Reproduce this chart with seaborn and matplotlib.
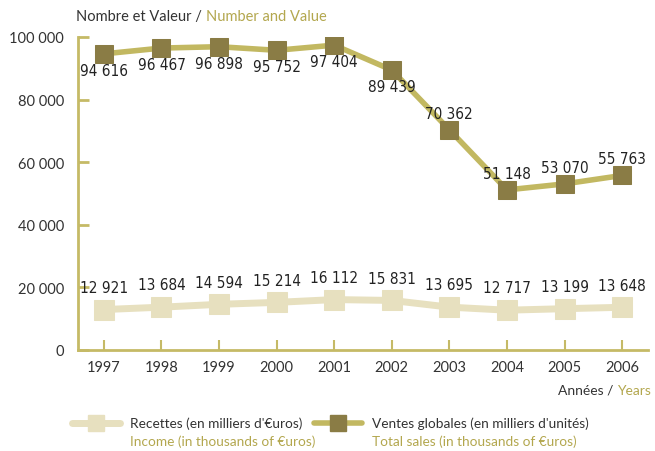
import matplotlib
matplotlib.use("Agg")
import matplotlib.pyplot as plt
from matplotlib.lines import Line2D
from matplotlib.ticker import FuncFormatter
import seaborn as sns
import pandas as pd

# data
years = [1997, 1998, 1999, 2000, 2001, 2002, 2003, 2004, 2005, 2006]
sales = [94616, 96467, 96898, 95752, 97404, 89439, 70362, 51148, 53070, 55763]
income = [12921, 13684, 14594, 15214, 16112, 15831, 13695, 12717, 13199, 13648]
# sales labels: below for the first six points, above afterwards
sales_label_pos = ["below"] * 6 + ["above"] * 4

df = pd.DataFrame({"year": years, "sales": sales, "income": income})

# colours
axis_col = "#c5ba66"
sales_line = "#c2b861"
sales_mark = "#8a7c45"
income_col = "#e7e0bf"
dark = "#333333"
olive_txt = "#b3a74e"

sns.set_theme(style="white")
plt.rcParams["font.family"] = ["Lato", "DejaVu Sans"]

fig = plt.figure(figsize=(6.55, 4.52), dpi=100)
ax = fig.add_axes([78 / 655, 1 - 351 / 452, (648 - 78) / 655, (351 - 38) / 452])

sns.lineplot(data=df, x="year", y="income", ax=ax, color=income_col, lw=5,
             marker="s", markersize=15, markerfacecolor=income_col,
             markeredgecolor=income_col, zorder=3)
sns.lineplot(data=df, x="year", y="sales", ax=ax, color=sales_line, lw=4,
             marker="s", markersize=13, markerfacecolor=sales_mark,
             markeredgecolor=sales_mark, zorder=4)

lab_font = dict(family="DejaVu Sans", fontstretch="condensed", fontsize=11,
                color="#222222", ha="center", va="center", zorder=6)
fmt = lambda v: f"{v:,}".replace(",", " ")
for x, v, pos in zip(years, sales, sales_label_pos):
    dy = -12 if pos == "below" else 12
    ax.annotate(fmt(v), (x, v), xytext=(0, dy), textcoords="offset points", **lab_font)
for x, v in zip(years, income):
    ax.annotate(fmt(v), (x, v), xytext=(0, 16), textcoords="offset points", **lab_font)

ax.set_xlim(1996.55, 2006.45)
ax.set_ylim(0, 100000)
ax.set_xticks(years)
ax.set_yticks(range(0, 100001, 20000))
ax.yaxis.set_major_formatter(FuncFormatter(lambda v, p: fmt(int(v))))
ax.set_xlabel("")
ax.set_ylabel("")

for s in ["top", "right"]:
    ax.spines[s].set_visible(False)
for s in ["left", "bottom"]:
    ax.spines[s].set_color(axis_col)
    ax.spines[s].set_linewidth(2)
ax.tick_params(axis="y", direction="in", length=8, width=2, color=axis_col,
               labelsize=10.5, labelcolor=dark, pad=10, left=True)
ax.tick_params(axis="x", direction="in", length=7, width=1.5, color=axis_col,
               labelsize=10.5, labelcolor=dark, pad=7, bottom=True)
ax.grid(False)

# axis titles, two colours each
ty = 1 - 17 / 452
t = fig.text(76 / 655, ty, "Nombre et Valeur / ", fontsize=10.5, color=dark, va="center")
fig.canvas.draw()
bb = t.get_window_extent()
fig.text(bb.x1 / 655, ty, "Number and Value", fontsize=10.5, color=olive_txt, va="center")

xy = 1 - 391 / 452
t2 = fig.text(651 / 655, xy, "Years", fontsize=10, color=olive_txt, ha="right", va="center")
fig.canvas.draw()
bb2 = t2.get_window_extent()
fig.text(bb2.x0 / 655, xy, "Années / ", fontsize=10, color=dark, ha="right", va="center")

# legend drawn by hand (two-colour labels)
def legend_item(x0, face, line_col, lw, ms, fr, en):
    y = 1 - 424 / 452
    fig.add_artist(Line2D([x0 / 655, (x0 + 48) / 655], [y, y], color=line_col, lw=lw,
                          transform=fig.transFigure))
    fig.add_artist(Line2D([(x0 + 24) / 655], [y], marker="s", markersize=ms,
                          markerfacecolor=face, markeredgecolor=face, lw=0,
                          transform=fig.transFigure))
    fig.text((x0 + 58) / 655, y, fr, fontsize=9.8, color=dark, va="center")
    fig.text((x0 + 58) / 655, 1 - 442 / 452, en, fontsize=9.8, color=olive_txt, va="center")

legend_item(72, income_col, income_col, 5, 11.5, "Recettes (en milliers d'€uros)",
            "Income (in thousands of €uros)")
legend_item(314, sales_mark, sales_line, 4, 11, "Ventes globales (en milliers d'unités)",
            "Total sales (in thousands of €uros)")

fig.savefig("out.png", dpi=100)
